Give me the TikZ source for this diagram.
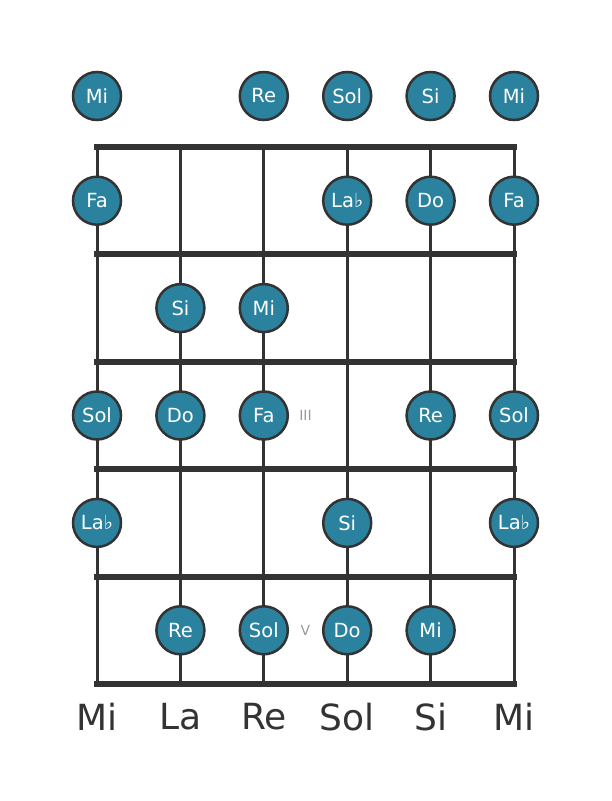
\documentclass[tikz,border=0pt]{standalone}
\usepackage{fontspec}
\setmainfont{DejaVu Sans}
\usetikzlibrary{math}
\definecolor{noteFill}{HTML}{2A829E}
\definecolor{lineGray}{HTML}{333333}
\definecolor{markGray}{HTML}{999999}

\begin{document}
\begin{tikzpicture}[x=1pt,y=-1pt,
    note/.style={circle, fill=noteFill, draw=lineGray, line width=2.5pt, minimum size=48pt,
        inner sep=0pt, text=white, font=\fontsize{19.5}{19.5}\selectfont},
    stringline/.style={lineGray, line width=3pt},
    fretline/.style={lineGray, line width=6pt, line cap=rect},
    marker/.style={text=markGray, font=\fontsize{14}{14}\selectfont},
    tuning/.style={text=lineGray, font=\fontsize{36}{36}\selectfont}]
	\tikzmath{
		\sx = 83.4;
		\fy = 107.4;
		\xo = 97;
		\yo = 147;
	}
    \useasboundingbox (0,0) rectangle (611,801);

    % strings and frets
    \foreach \s in {0,...,5}
        \draw[stringline] (\xo+\s*\sx,\yo) -- (\xo+\s*\sx,\yo+5*\fy);
    \foreach \f in {0,...,5}
        \draw[fretline] (\xo,\yo+\f*\fy) -- (\xo+5*\sx,\yo+\f*\fy);

    % open strings
    \foreach \s/\n in {0/Mi,2/Re,3/Sol,4/Si,5/Mi}
        \node[note] (open-\s) at (\xo+\s*\sx,96) {\n};

    % fretted notes
    \foreach \s/\f/\n in {0/1/Fa,3/1/La♭,4/1/Do,5/1/Fa,
                          1/2/Si,2/2/Mi,
                          0/3/Sol,1/3/Do,2/3/Fa,4/3/Re,5/3/Sol,
                          0/4/La♭,3/4/Si,5/4/La♭,
                          1/5/Re,2/5/Sol,3/5/Do,4/5/Mi}
        \node[note] (note-\s-\f) at (\xo+\s*\sx,\yo+\f*\fy-0.5*\fy) {\n};

    % position marks
    \node[marker] (mark-3) at (\xo+2.5*\sx,\yo+2.5*\fy) {III};
    \node[marker] (mark-5) at (\xo+2.5*\sx,\yo+4.5*\fy) {V};

    % tuning
    \foreach \s/\n in {0/Mi,1/La,2/Re,3/Sol,4/Si,5/Mi}
        \node[tuning] (tune-\s) at (\xo+\s*\sx,717) {\n};
\end{tikzpicture}
\end{document}
